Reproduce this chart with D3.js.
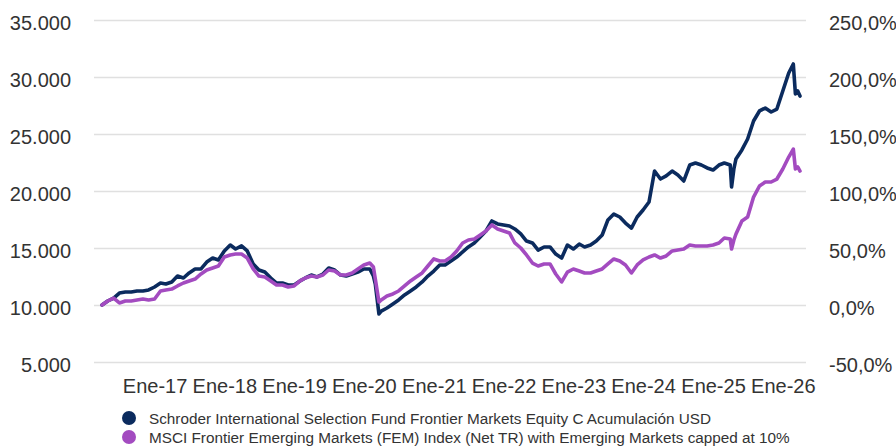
<!DOCTYPE html>
<html>
<head>
<meta charset="utf-8">
<script src="https://cdn.jsdelivr.net/npm/d3@7"></script>
<style>
  body { margin: 0; background: #fff; }
  svg { display: block; font-family: "Liberation Sans", Arial, sans-serif; }
</style>
</head>
<body>
<div id="chart"></div>
<script>
const dates = [
  "2016-04-01","2016-05-01","2016-06-01","2016-07-01","2016-08-01","2016-09-01","2016-10-01","2016-11-01","2016-12-01",
  "2017-01-01","2017-02-01","2017-03-01","2017-04-01","2017-05-01","2017-06-01","2017-07-01","2017-08-01","2017-09-01","2017-10-01","2017-11-01","2017-12-01",
  "2018-01-01","2018-02-01","2018-03-01","2018-04-01","2018-05-01","2018-06-01","2018-07-01","2018-08-01","2018-09-01","2018-10-01","2018-11-01","2018-12-01",
  "2019-01-01","2019-02-01","2019-03-01","2019-04-01","2019-05-01","2019-06-01","2019-07-01","2019-08-01","2019-09-01","2019-10-01","2019-11-01","2019-12-01",
  "2020-01-01","2020-02-01","2020-02-20","2020-03-01","2020-03-20","2020-04-01","2020-05-01","2020-06-01","2020-07-01","2020-08-01","2020-09-01","2020-10-01","2020-11-01","2020-12-01",
  "2021-01-01","2021-02-01","2021-03-01","2021-04-01","2021-05-01","2021-06-01","2021-07-01","2021-08-01","2021-09-01","2021-10-01","2021-11-01","2021-12-01",
  "2022-01-01","2022-02-01","2022-03-01","2022-04-01","2022-05-01","2022-06-01","2022-07-01","2022-08-01","2022-09-01","2022-10-01","2022-11-01","2022-12-01",
  "2023-01-01","2023-02-01","2023-03-01","2023-04-01","2023-05-01","2023-06-01","2023-07-01","2023-08-01","2023-09-01","2023-10-01","2023-11-01","2023-12-01",
  "2024-01-01","2024-02-01","2024-03-01","2024-04-01","2024-05-01","2024-06-01","2024-07-01","2024-08-01","2024-09-01","2024-10-01","2024-11-01","2024-12-01",
  "2025-01-01","2025-02-01","2025-03-01","2025-04-01","2025-04-08","2025-04-20","2025-05-01","2025-06-01","2025-07-01","2025-08-01","2025-09-01","2025-10-01","2025-11-01","2025-12-01",
  "2026-01-01","2026-02-01","2026-02-25","2026-03-08","2026-03-20","2026-04-01"
];

// Schroder ISF Frontier Markets Equity C Acc USD (growth of 10.000)
const fund = [
  10000,10350,10610,11050,11140,11140,11230,11230,11320,
  11580,11930,11840,12020,12540,12370,12810,13160,13160,13770,14120,13950,
  14740,15260,14910,15180,14740,13600,13070,12890,12370,11930,11930,11750,
  11750,12110,12370,12630,12460,12720,13250,13070,12630,12540,12720,12890,
  13160,13160,12540,11840,9210,9470,9740,10090,10440,10880,11230,11580,12020,12540,
  12980,13510,13510,13860,14210,14650,15090,15440,15970,16490,17370,17110,
  17020,16930,16670,16230,15610,15440,14820,15090,15090,14470,14120,15260,
  14910,15350,15090,15260,15610,16140,17460,17980,17720,17190,16750,17720,
  18330,19040,21750,21050,21320,21750,21400,20880,22280,22460,22280,22020,
  21840,22280,22460,22280,20350,21930,22810,23600,24560,26140,27020,27280,26930,27190,
  28770,30350,31140,28510,28770,28330
];

// MSCI Frontier Emerging Markets (FEM) Index (Net TR)
const benchmark = [
  10000,10350,10610,10180,10350,10350,10440,10530,10440,
  10530,11230,11320,11400,11670,11930,12110,12280,12720,13070,13250,13420,
  14210,14390,14470,14470,14120,13160,12540,12460,12110,11750,11750,11580,
  11670,12110,12370,12540,12460,12630,13070,12980,12630,12630,12810,13160,
  13510,13680,13330,12280,10260,10440,10790,10970,11230,11670,12110,12460,12810,13420,
  14040,13860,13860,14210,14740,15440,15700,15790,16140,16490,17020,16670,
  16490,16320,15440,15000,14390,13680,13420,13600,13600,12720,12020,12890,
  13160,12980,12810,12810,12980,13160,13600,14040,13860,13510,12810,13510,
  13950,14210,14390,14120,14300,14740,14820,14910,15260,15180,15180,15180,
  15260,15440,15880,15790,14910,15700,16230,17370,17720,19470,20440,20790,20790,21050,
  21930,22980,23680,21930,22110,21750
];

const seriesNames = [
  "Schroder International Selection Fund Frontier Markets Equity C Acumulación USD",
  "MSCI Frontier Emerging Markets (FEM) Index (Net TR) with Emerging Markets capped at 10%"
];
const seriesColors = ["#0b2b5e", "#a34bc0"];

const leftTicks = [5000, 10000, 15000, 20000, 25000, 30000, 35000];
const rightTicks = [-50, 0, 50, 100, 150, 200, 250];
const xTicks = ["2017-01-01","2018-01-01","2019-01-01","2020-01-01","2021-01-01","2022-01-01","2023-01-01","2024-01-01","2025-01-01","2026-01-01"];
const xLabels = ["Ene-17","Ene-18","Ene-19","Ene-20","Ene-21","Ene-22","Ene-23","Ene-24","Ene-25","Ene-26"];

const width = 896, height = 447;
const margin = {top: 20, right: 90, bottom: 85, left: 94};

const es = d3.formatLocale({decimal: ",", thousands: ".", grouping: [3], currency: ["", "€"], minus: "-"});
const fmtLeft = es.format(",.0f");
const fmtRight = v => es.format(".1f")(v) + "%";

const parse = d3.utcParse("%Y-%m-%d");
const dateValues = dates.map(parse);

const x = d3.scaleUtc()
  .domain(d3.extent(dateValues))
  .range([margin.left + 8, width - margin.right - 6]);
const y = d3.scaleLinear()
  .domain([5000, 35000])
  .range([height - margin.bottom, margin.top]);
const yRight = d3.scaleLinear()
  .domain([-50, 250])
  .range([height - margin.bottom, margin.top]);

const svg = d3.select("#chart")
  .append("svg")
  .attr("width", width)
  .attr("height", height)
  .attr("viewBox", [0, 0, width, height]);

// gridlines + left labels
svg.append("g")
  .attr("transform", `translate(${margin.left},0)`)
  .call(d3.axisLeft(y).tickValues(leftTicks).tickFormat(fmtLeft).tickSize(-(width - margin.left - margin.right)).tickPadding(23))
  .call(g => g.select(".domain").remove())
  .call(g => g.selectAll(".tick line").attr("stroke", "#e0e0e0").attr("stroke-width", 1.6))
  .call(g => g.selectAll(".tick text").attr("fill", "#333").attr("font-size", 20).attr("dy", "0.45em"));

svg.append("g")
  .attr("transform", `translate(${width - margin.right},0)`)
  .call(d3.axisRight(yRight).tickValues(rightTicks).tickFormat(fmtRight).tickSize(0).tickPadding(23))
  .call(g => g.select(".domain").remove())
  .call(g => g.selectAll(".tick text").attr("fill", "#333").attr("font-size", 20).attr("dy", "0.45em"));

svg.append("g")
  .attr("transform", `translate(0,${height - margin.bottom})`)
  .call(d3.axisBottom(x).tickValues(xTicks.map(parse)).tickFormat((d, i) => xLabels[i]).tickSize(0).tickPadding(17))
  .call(g => g.select(".domain").remove())
  .call(g => g.selectAll(".tick text").attr("fill", "#333").attr("font-size", 20));

const line = d3.line()
  .x((d, i) => x(dateValues[i]))
  .y(d => y(d))
  .curve(d3.curveLinear);

[fund, benchmark].forEach((s, k) => {
  svg.append("path")
    .datum(s)
    .attr("fill", "none")
    .attr("stroke", seriesColors[k])
    .attr("stroke-width", 3.6)
    .attr("stroke-linejoin", "round")
    .attr("stroke-linecap", "round")
    .attr("d", line);
});

// legend
const legend = svg.append("g")
  .attr("transform", "translate(129,418)");

legend.selectAll("g")
  .data(seriesNames)
  .join("g")
  .attr("transform", (d, i) => `translate(0,${i * 19})`)
  .call(g => g.append("circle").attr("r", 7).attr("fill", (d, i) => seriesColors[i]))
  .call(g => g.append("text")
    .attr("x", 20)
    .attr("dy", "0.36em")
    .attr("font-size", 15.3)
    .attr("fill", "#333")
    .text(d => d));
</script>
</body>
</html>
